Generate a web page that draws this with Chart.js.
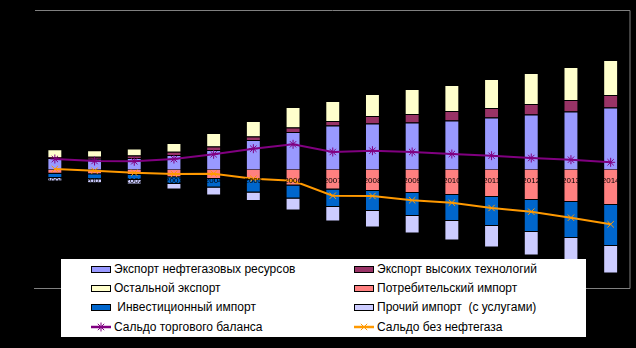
<!DOCTYPE html>
<html>
<head>
<meta charset="utf-8">
<script src="https://cdn.jsdelivr.net/npm/chart.js@4.4.1/dist/chart.umd.min.js"></script>
<style>
  body { margin: 0; background: #000; }
  #wrap { position: relative; width: 636px; height: 348px; }
  #legend {
    position: absolute; left: 61px; top: 259px; width: 525px; height: 78px;
    background: #fff; font: 12px "Liberation Sans", Arial, sans-serif; color: #000;
  }
  .txt { position: absolute; white-space: pre; line-height: 14px; }
  .sw { position: absolute; width: 18px; height: 5px; border: 1px solid #000; }
  .ln { position: absolute; }
</style>
</head>
<body>
<div id="wrap">
  <canvas id="tradeChart"></canvas>
  <div id="legend"></div>
</div>
<script>
const years = ["2000", "2001", "2002", "2003", "2004", "2005", "2006", "2007",
               "2008", "2009", "2010", "2011", "2012", "2013", "2014"];

// exports (up from zero)
const oilExport   = [11.5, 10.8, 11.5, 14.5, 19.5, 29.5, 37.5, 44, 46, 47, 49, 52, 55, 58, 62];
const hiTech      = [1, 2, 2.5, 3.3, 3.5, 3.5, 4.5, 4.5, 7.5, 8.5, 9.5, 9.5, 10.5, 11.5, 12.5];
const otherExport = [7.7, 6.5, 7, 8.7, 13.5, 15.5, 20.5, 20, 22, 25, 26, 29, 31, 33, 35];

// imports (down from zero)
const consumerImport = [-4.2, -4.7, -5.5, -7.8, -9.5, -10.5, -16, -20, -21.5, -23.5, -25.5, -27.5, -30.5, -32.5, -35.5];
const investImport   = [-4.3, -5, -5, -6.7, -8.5, -12.5, -13, -17.5, -20, -23, -26, -29, -32, -36, -41];
const otherImport    = [-3.5, -4, -4.5, -5.5, -8, -8.5, -12, -14.5, -16.5, -17.5, -19.5, -21.5, -23.5, -25, -27.5];

// balances
const saldo      = [10.5, 8.5, 8.2, 10.5, 15.2, 20.8, 25.2, 17.5, 18.8, 17.5, 15.5, 13.8, 11.5, 9.8, 7.2];
const saldoNoOil = [0.5, -1.2, -3.2, -4.5, -4.2, -9.2, -11.2, -26.2, -26.5, -30.8, -33.2, -38.5, -42.2, -48.2, -54.8];

const names = ["Экспорт нефтегазовых ресурсов", "Экспорт высоких технологий", "Остальной экспорт",
               "Потребительский импорт", " Инвестиционный импорт", "Прочий импорт  (с услугами)",
               "Сальдо торгового баланса", "Сальдо без нефтегаза"];
const colors = ["#9999FF", "#993366", "#FFFFCC", "#FF8080", "#0066CC", "#CCCCFF", "#800080", "#FF9900"];

// draws the grey plot frame (top, right, bottom)
const plotFrame = {
    id: "plotFrame",
    beforeDatasetsDraw(chart) {
        const { ctx, chartArea: a } = chart;
        ctx.save();
        ctx.strokeStyle = "#808080";
        ctx.lineWidth = 1;
        ctx.beginPath();
        ctx.moveTo(a.left, a.top + 0.5);
        ctx.lineTo(a.right - 0.5, a.top + 0.5);
        ctx.lineTo(a.right - 0.5, a.bottom + 0.5);
        ctx.lineTo(a.left - 1, a.bottom + 0.5);
        ctx.stroke();
        ctx.restore();
    }
};

const ctx = document.getElementById("tradeChart").getContext("2d");

new Chart(ctx, {
    type: "bar",
    data: {
        labels: years,
        datasets: [
            { type: "line", label: names[6], data: saldo, borderColor: colors[6], backgroundColor: colors[6],
              borderWidth: 2, pointStyle: "star", pointRadius: 4.5, pointBorderWidth: 1, stack: "s1", order: 0 },
            { type: "line", label: names[7], data: saldoNoOil, borderColor: colors[7], backgroundColor: colors[7],
              borderWidth: 2, pointStyle: "crossRot", pointRadius: 4.5, pointBorderWidth: 1, stack: "s2", order: 0 },
            { label: names[0], data: oilExport, backgroundColor: colors[0], stack: "b", order: 1 },
            { label: names[1], data: hiTech, backgroundColor: colors[1], stack: "b", order: 1 },
            { label: names[2], data: otherExport, backgroundColor: colors[2], stack: "b", order: 1 },
            { label: names[3], data: consumerImport, backgroundColor: colors[3], stack: "b", order: 1 },
            { label: names[4], data: investImport, backgroundColor: colors[4], stack: "b", order: 1 },
            { label: names[5], data: otherImport, backgroundColor: colors[5], stack: "b", order: 1 }
        ]
    },
    options: {
        animation: false,
        responsive: true,
        maintainAspectRatio: false,
        layout: { padding: { left: 35, right: 3, top: 10, bottom: 60 } },
        datasets: {
            bar: { barPercentage: 0.376, categoryPercentage: 1, borderColor: "#000", borderWidth: 1 }
        },
        plugins: {
            legend: { display: false },
            tooltip: { enabled: false }
        },
        scales: {
            x: {
                stacked: true,
                position: { y: 0 },
                grid: { display: false, drawTicks: false },
                border: { display: false },
                ticks: {
                    z: 1,
                    color: "#000",
                    font: { size: 8, family: "'Liberation Sans', Arial, sans-serif" },
                    padding: 6,
                    autoSkip: false,
                    maxRotation: 0
                },
                afterFit: scale => { scale.height = 0; }
            },
            y: { display: false, stacked: true, min: -118.5, max: 159.5 }
        }
    },
    plugins: [plotFrame]
});

// legend, two columns
const legend = document.getElementById("legend");
const rowY = [10, 29, 48, 67.5];
names.forEach((name, k) => {
    const col = k % 2, row = Math.floor(k / 2);
    const sx = col === 0 ? 30 : 293;
    const tx = col === 0 ? 53 : 316;
    const cy = rowY[row];
    if (k < 6) {
        const sw = document.createElement("div");
        sw.className = "sw";
        sw.style.left = sx + "px";
        sw.style.top = (cy - 3.5) + "px";
        sw.style.background = colors[k];
        legend.appendChild(sw);
    } else {
        const c = colors[k];
        const mark = k === 6
            ? `<path d="M6 -4.5 V4.5 M1.5 0 H10.5 M2.8 -3.2 L9.2 3.2 M2.8 3.2 L9.2 -3.2" />`
            : `<path d="M2.8 -3.2 L9.2 3.2 M2.8 3.2 L9.2 -3.2" />`;
        const svg = document.createElementNS("http://www.w3.org/2000/svg", "svg");
        svg.setAttribute("class", "ln");
        svg.setAttribute("width", "22");
        svg.setAttribute("height", "12");
        svg.setAttribute("viewBox", "-5 -6 22 12");
        svg.style.left = sx + "px";
        svg.style.top = (cy - 6) + "px";
        svg.innerHTML = `<line x1="-5" y1="0" x2="15" y2="0" stroke="${c}" stroke-width="2.5"/>` +
            `<g stroke="${c}" stroke-width="1" fill="none" transform="translate(-1,0)">${mark}</g>`;
        legend.appendChild(svg);
    }
    const t = document.createElement("div");
    t.className = "txt";
    t.style.left = tx + "px";
    t.style.top = (cy - 7) + "px";
    t.textContent = name;
    legend.appendChild(t);
});
</script>
</body>
</html>
